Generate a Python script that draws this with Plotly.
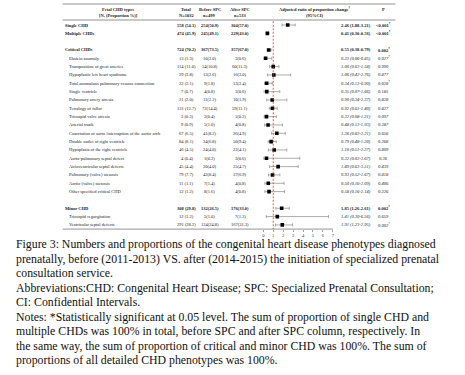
import plotly.graph_objects as go

W, H = 465, 375

# ---------------- data ----------------
section_single = ["Single CHD", "Multiple CHDs"]
section_critical = ["Critical CHDs", "Ebstein anomaly", "Transposition of great arteries",
                    "Hypoplastic left heart syndrome", "Total anomalous pulmonary venous connection",
                    "Single ventricle", "Pulmonary artery atresia", "Tetralogy of fallot",
                    "Tricuspid valve atresia", "Arterial trunk",
                    "Coarctation of aorta /interruption of the aortic arch",
                    "Double outlet of right ventricle", "Hypoplasia of the right ventricle",
                    "Aorta-pulmonary septal defect", "Atrioventricular septal defects",
                    "Pulmonary (valve) stenosis", "Aortic (valve) stenosis",
                    "Other specified critical CHD"]
section_minor = ["Minor CHD", "Tricuspid regurgitation", "Ventricular septal defects"]
group_rows = ["Single CHD", "Multiple CHDs", "Critical CHDs", "Minor CHD"]

total_n = [558, 474, 724, 13, 114, 29, 22, 7, 21, 131, 3, 9, 67, 84, 46, 4, 45, 79, 11, 12, 308, 12, 291]
total_pct = [54.1, 45.9, 70.2, 1.3, 11.0, 2.8, 2.1, 0.7, 2.0, 12.7, 0.3, 0.9, 6.5, 8.1, 4.5, 0.4, 4.4, 7.7, 1.1, 1.2, 29.8, 1.2, 28.2]
before_n = [254, 245, 367, 10, 54, 13, 9, 4, 11, 72, 2, 5, 41, 34, 24, 1, 20, 42, 7, 8, 132, 5, 124]
before_pct = [50.9, 49.1, 73.5, 2.0, 10.8, 2.6, 1.8, 0.8, 2.2, 14.4, 0.4, 1.0, 8.2, 6.8, 4.8, 0.2, 4.0, 8.4, 1.4, 1.6, 26.5, 1.0, 24.8]
after_n = [304, 229, 357, 3, 60, 16, 13, 3, 10, 59, 1, 4, 26, 50, 22, 3, 25, 37, 4, 4, 176, 7, 167]
after_pct = [57.0, 43.0, 67.0, 0.6, 11.3, 3.0, 2.4, 0.6, 1.9, 11.1, 0.2, 0.8, 4.9, 9.4, 4.1, 0.6, 4.7, 6.9, 0.8, 0.8, 33.0, 1.3, 31.3]

ratio = [2.46, 0.41, 0.55, 0.23, 1.00, 1.06, 0.34, 0.35, 0.90, 0.92, 0.32, 0.48, 1.36, 0.79, 1.10, 0.32, 1.49, 0.93, 0.50, 0.58, 1.85, 1.41, 1.91]
ci_low = [1.88, 0.30, 0.38, 0.06, 0.63, 0.42, 0.13, 0.07, 0.34, 0.61, 0.08, 0.13, 0.83, 0.48, 0.51, 0.03, 0.63, 0.52, 0.16, 0.16, 1.26, 0.30, 1.23]
ci_high = [3.21, 0.56, 0.79, 0.85, 1.58, 2.76, 0.90, 1.66, 2.37, 1.40, 1.31, 1.93, 2.21, 1.30, 2.37, 3.67, 3.51, 1.67, 2.09, 2.14, 2.61, 6.56, 2.95]
p_values = ["<0.001*", "<0.001*", "0.002*", "0.027*", "0.990", "0.877", "0.028*", "0.185", "0.828",
            "0.827", "0.097", "0.287", "0.656", "0.368", "0.809", "0.36", "0.439", "0.818", "0.406",
            "0.226", "0.002*", "0.659", "0.002*"]

x_ticks = [0, 1, 2, 3, 4, 5, 6, 7]

header_cols = [("Fetal CHD types", "[N, (Proportion %)]"), ("Total", "N=1032"),
               ("Before SPC", "n=499"), ("After SPC", "n=533"),
               ("Adjusted ratio of proportion change<sup>†</sup>", "(95%CI)"), ("P", "")]

caption_lines = [
    "Figure 3: Numbers and proportions of the congenital heart disease phenotypes diagnosed",
    "prenatally, before (2011-2013) VS. after (2014-2015) the initiation of specialized prenatal",
    "consultation service.",
    "Abbreviations:CHD: Congenital Heart Disease; SPC: Specialized Prenatal Consultation;",
    "CI: Confidential Intervals.",
    "Notes: *Statistically significant at 0.05 level. The sum of proportion of single CHD and",
    "multiple CHDs was 100% in total, before SPC and after SPC column, respectively. In",
    "the same way, the sum of proportion of critical and minor CHD was 100%. The sum of",
    "proportions of all detailed CHD phenotypes was 100%.",
]

# ---------------- layout helpers ----------------
labels = []
slots = []
s = 0
for sec in (section_single, section_critical, section_minor):
    for name in sec:
        labels.append(name)
        slots.append(s)
        s += 1
    s += 1

FIRST_PX, ROW_PX = 25.0, 8.33
y_top = -FIRST_PX / ROW_PX
y_bot = (H - FIRST_PX) / ROW_PX

def px(xp):
    return xp / W

def py(yp):
    return 1 - yp / H

SERIF = "Liberation Serif"
TFONT = dict(family=SERIF, size=4.5, color="#222")

fig = go.Figure()

fig.add_trace(go.Scatter(
    x=ratio, y=slots, mode="markers",
    marker=dict(symbol="square", size=3.6, color="black"),
    error_x=dict(type="data", symmetric=False,
                 array=[h - r for h, r in zip(ci_high, ratio)],
                 arrayminus=[r - l for r, l in zip(ratio, ci_low)],
                 color="#8a8a8a", thickness=0.7, width=1.5),
    hoverinfo="skip", showlegend=False,
))

ann = []
hdr_x = [118, 187, 210, 241, 316, 385]
for (l1, l2), xc in zip(header_cols, hdr_x):
    ann.append(dict(x=px(xc), y=py(9), xref="paper", yref="paper", text="<b>%s</b>" % l1,
                    showarrow=False, xanchor="center", yanchor="middle", font=TFONT))
    if l2:
        ann.append(dict(x=px(xc), y=py(15), xref="paper", yref="paper", text="<b>%s</b>" % l2,
                        showarrow=False, xanchor="center", yanchor="middle", font=TFONT))

def sup_star(t):
    return t.replace("*", "<sup>*</sup>")

for i, name in enumerate(labels):
    grp = name in group_rows
    b0, b1 = ("<b>", "</b>") if grp else ("", "")
    i0, i1 = ("<b>", "</b>") if grp else ("<i>", "</i>")
    y = slots[i]
    cells = [
        (62 if grp else 66, "left", b0 + name + b1),
        (187, "center", b0 + "%d (%.1f)" % (total_n[i], total_pct[i]) + b1),
        (210, "center", b0 + "%d(%.1f)" % (before_n[i], before_pct[i]) + b1),
        (241, "center", b0 + "%d(%.1f)" % (after_n[i], after_pct[i]) + b1),
        (357, "center", i0 + "%.2f (%.2f-%.2f)" % (ratio[i], ci_low[i], ci_high[i]) + i1),
        (385, "center", i0 + sup_star(p_values[i]) + i1),
    ]
    for xc, anc, txt in cells:
        ann.append(dict(x=px(xc), y=y, xref="paper", yref="y", text=txt, showarrow=False,
                        xanchor=anc, yanchor="middle", font=TFONT))

cap_y = [244, 258.5, 273, 287.5, 302, 316.5, 331, 345.5, 360]
for k, (line, yc) in enumerate(zip(caption_lines, cap_y)):
    ann.append(dict(x=px(13), y=py(yc), xref="paper", yref="paper", text=line, showarrow=False,
                    xanchor="left", yanchor="middle",
                    font=dict(family=SERIF, size=11.8, color="#111")))

shapes = [
    dict(type="line", xref="paper", yref="paper", x0=px(62), x1=px(397), y0=py(4), y1=py(4),
         line=dict(color="#777", width=0.8)),
    dict(type="line", xref="paper", yref="paper", x0=px(62), x1=px(397), y0=py(20), y1=py(20),
         line=dict(color="#777", width=0.8)),
    dict(type="line", xref="paper", yref="y", x0=px(62), x1=px(334), y0=24.5, y1=24.5,
         line=dict(color="#777", width=0.8)),
    dict(type="line", xref="x", yref="y", x0=1, x1=1, y0=-0.45, y1=24.5,
         line=dict(color="#e03030", width=0.8, dash="2px,1.5px")),
]

fig.update_layout(
    width=W, height=H, margin=dict(l=0, r=0, t=0, b=0),
    paper_bgcolor="white", plot_bgcolor="rgba(0,0,0,0)",
    xaxis=dict(domain=[px(264), px(334)], range=[0, 7], tickvals=x_ticks, ticks="outside",
               ticklen=1.5, tickwidth=0.6, tickcolor="#666", showgrid=False, zeroline=False,
               showline=False, anchor="free", position=py(24.5 * ROW_PX + FIRST_PX),
               tickfont=dict(family=SERIF, size=4.5, color="#333")),
    yaxis=dict(domain=[0, 1], range=[y_bot, y_top], visible=False),
    annotations=ann, shapes=shapes,
)

fig.write_html("out.html", config={"displayModeBar": False, "staticPlot": True},
               post_script="document.body.style.margin='0';")
